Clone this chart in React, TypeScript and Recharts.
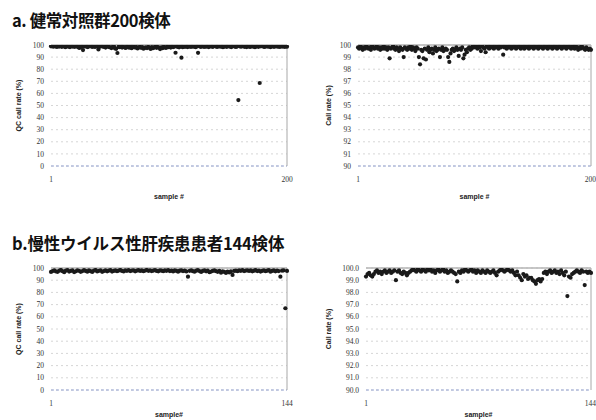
import React from "react"
import {
  ScatterChart,
  Scatter,
  XAxis,
  YAxis,
  CartesianGrid,
  ReferenceLine,
  Label,
} from "recharts"

// a. healthy controls, 200 samples
const healthyQcRate = [
  98.9, 99.1, 98.6, 99.2, 98.8, 98.4, 99.0, 98.7, 99.3, 98.5, 98.9, 99.1, 98.2, 98.8, 99.0, 98.6, 98.3, 99.2, 98.7, 98.9,
  98.5, 99.0, 98.8, 98.1, 97.6, 98.7, 98.4, 95.8, 98.9, 99.1, 98.6, 98.3, 98.9, 99.2, 98.7, 98.5, 99.0, 98.4, 98.8, 99.1,
  96.3, 98.6, 98.9, 99.2, 98.5, 98.8, 97.9, 98.6, 99.0, 98.3, 98.1, 97.5, 98.4, 98.9, 97.2, 96.8, 93.4, 98.5, 98.2, 98.8,
  97.9, 98.4, 98.1, 97.6, 98.7, 98.3, 97.8, 98.5, 97.4, 98.2, 98.6, 97.9, 98.3, 97.1, 98.0, 98.5, 97.7, 98.2, 96.9, 97.6,
  98.1, 97.5, 98.4, 97.8, 96.7, 98.2, 97.3, 98.0, 98.6, 97.7, 98.3, 97.9, 96.6, 98.1, 97.4, 98.5, 98.0, 97.6, 98.7, 98.2,
  98.5, 97.9, 98.8, 98.3, 98.6, 93.6, 98.9, 98.4, 98.1, 98.7, 89.5, 98.2, 98.8, 98.5, 99.0, 98.3, 98.7, 98.9, 98.4, 99.1,
  98.6, 98.9, 98.2, 98.8, 93.5, 99.0, 98.5, 98.7, 99.2, 98.4, 98.9, 98.6, 99.1, 98.3, 98.8, 99.0, 98.5, 98.7, 99.2, 98.9,
  98.4, 98.8, 99.1, 98.6, 98.9, 98.2, 98.7, 99.0, 98.5, 98.8, 99.2, 98.6, 98.3, 98.9, 99.1, 98.7, 98.4, 98.8, 54.5, 99.0,
  98.6, 98.9, 99.2, 98.5, 98.8, 98.3, 99.0, 98.7, 98.4, 99.1, 98.9, 98.6, 98.2, 98.8, 99.0, 98.5, 68.6, 98.9, 99.2, 98.7,
  98.4, 98.8, 99.1, 98.6, 98.9, 98.3, 98.7, 99.0, 98.5, 98.8, 99.2, 98.6, 98.9, 98.4, 99.1, 98.7, 98.9, 98.5, 98.8, 98.6,
]

const healthyCallRate = [
  99.8, 99.7, 99.9, 99.8, 99.6, 99.8, 99.7, 99.9, 99.8, 99.7, 99.8, 99.6, 99.9, 99.8, 99.7, 99.8, 99.9, 99.7, 99.8, 99.6,
  99.8, 99.7, 99.9, 99.7, 99.8, 99.6, 99.8, 98.9, 99.7, 99.8, 99.9, 99.7, 99.6, 99.8, 99.7, 99.5, 99.8, 99.7, 99.6, 99.0,
  99.8, 99.7, 99.6, 99.8, 99.7, 99.9, 99.6, 99.8, 99.7, 99.5, 99.8, 99.7, 99.0, 98.4, 99.6, 99.5, 98.9, 99.7, 98.8, 99.6,
  99.8, 99.4, 99.6, 99.7, 99.3, 99.6, 99.8, 99.5, 99.6, 99.7, 99.0, 99.6, 99.8, 99.5, 99.6, 99.7, 99.6, 99.0, 98.6, 99.3,
  99.6, 99.7, 99.5, 99.6, 99.8, 99.6, 99.1, 99.7, 99.6, 99.8, 98.9, 99.2, 99.6, 99.4, 99.7, 99.8, 99.6, 99.7, 99.9, 99.8,
  99.9, 99.8, 99.7, 99.9, 99.8, 99.5, 99.9, 99.8, 99.7, 99.4, 99.9, 99.8, 99.7, 99.9, 99.8, 99.9, 99.7, 99.8, 99.9, 99.8,
  99.7, 99.9, 99.8, 99.9, 99.2, 99.8, 99.9, 99.7, 99.8, 99.9, 99.8, 99.7, 99.9, 99.8, 99.9, 99.7, 99.8, 99.9, 99.8, 99.7,
  99.9, 99.8, 99.7, 99.9, 99.8, 99.9, 99.7, 99.8, 99.9, 99.8, 99.7, 99.9, 99.8, 99.9, 99.7, 99.8, 99.9, 99.8, 99.7, 99.9,
  99.8, 99.9, 99.7, 99.8, 99.9, 99.8, 99.7, 99.9, 99.8, 99.9, 99.7, 99.8, 99.9, 99.8, 99.7, 99.9, 99.8, 99.9, 99.7, 99.8,
  99.9, 99.8, 99.7, 99.9, 99.8, 99.7, 99.9, 99.8, 99.6, 99.8, 99.7, 99.9, 99.8, 99.7, 99.6, 99.8, 99.7, 99.6, 99.7, 99.6,
]

// b. chronic viral liver disease, 144 samples
const liverQcRate = [
  96.8, 97.5, 98.1, 97.2, 96.9, 97.8, 98.3, 97.4, 96.6, 97.9, 98.2, 97.1, 97.6, 98.0, 96.7, 97.3, 98.1, 97.7, 96.9, 97.5,
  98.2, 97.6, 97.0, 98.0, 97.4, 96.8, 97.9, 98.3, 97.2, 97.7, 98.1, 96.9, 97.5, 98.0, 97.3, 97.8, 98.2, 97.1, 97.6, 98.0,
  97.4, 97.9, 98.3, 97.6, 97.2, 98.0, 97.7, 98.2, 97.5, 97.9, 98.1, 97.3, 97.8, 98.2, 97.6, 98.0, 97.4, 97.9, 98.3, 97.7,
  98.0, 97.5, 97.9, 98.2, 97.6, 97.3, 98.1, 97.8, 97.4, 98.0, 97.7, 98.2, 97.5, 97.9, 97.2, 98.1, 97.6, 97.0, 97.8, 98.0,
  97.5, 97.9, 97.2, 92.9, 97.7, 98.1, 97.4, 97.0, 97.8, 98.2, 97.5, 96.8, 97.6, 98.0, 97.3, 97.8, 96.5, 97.1, 97.6, 98.1,
  97.4, 96.9, 97.7, 96.2, 97.3, 96.8, 95.9, 97.0, 96.4, 97.2, 94.3, 97.6, 97.9, 97.4, 98.0, 97.7, 98.2, 97.5, 97.9, 98.1,
  97.6, 98.0, 97.3, 97.8, 98.2, 97.5, 97.9, 97.1, 97.7, 98.1, 97.4, 97.8, 98.2, 97.0, 97.6, 98.0, 97.3, 97.9, 97.5, 92.9,
  97.8, 98.1, 67.0, 97.6,
]

const liverCallRate = [
  99.3, 99.5, 99.6, 99.4, 99.3, 99.5, 99.7, 99.8, 99.6, 99.7, 99.5, 99.7, 99.8, 99.6, 99.7, 99.8, 99.6, 99.7, 99.8, 99.0,
  99.7, 99.8, 99.6, 99.5, 99.7, 99.6, 99.4, 99.6, 99.7, 99.8, 99.9, 99.8, 99.7, 99.9, 99.8, 99.7, 99.9, 99.8, 99.7, 99.9,
  99.8, 99.9, 99.7, 99.8, 99.6, 99.8, 99.9, 99.7, 99.8, 99.9, 99.7, 99.8, 99.6, 99.7, 99.8, 99.7, 99.6, 99.5, 98.9, 99.7,
  99.6, 99.8, 99.7, 99.9, 99.8, 99.7, 99.8, 99.9, 99.7, 99.8, 99.6, 99.8, 99.7, 99.6, 99.8, 99.7, 99.6, 99.8, 99.7, 99.6,
  99.7, 99.8, 99.6, 99.4, 99.7, 99.8, 99.9, 99.8, 99.7, 99.8, 99.9, 99.8, 99.7, 99.8, 99.6, 99.4, 99.7, 99.4, 99.2, 99.0,
  99.5, 99.3, 99.4, 99.1, 99.2, 99.2, 99.0, 98.9, 98.7, 99.0, 99.1, 98.9, 99.1, 99.6, 99.7, 99.5, 99.7, 99.8, 99.6, 99.7,
  99.8, 99.6, 99.7, 99.5, 99.8, 99.6, 99.4, 99.7, 97.7, 99.3, 99.2, 99.5, 99.6, 99.7, 99.8, 99.7, 99.6, 99.8, 99.7, 98.6,
  99.7, 99.6, 99.7, 99.6,
]

const qcTicks = [0, 10, 20, 30, 40, 50, 60, 70, 80, 90, 100]
const callTicks = [90, 91, 92, 93, 94, 95, 96, 97, 98, 99, 100]

const tickStyle = { fontFamily: "'Liberation Serif', serif", fontSize: 7.5, fill: "#333" }
const labelStyle = { fontFamily: "'Liberation Sans', Arial, sans-serif", fontSize: 7, fontWeight: 700, fill: "#222" }

type PanelProps = {
  left: number
  top: number
  width: number
  height: number
  marginTop: number
  marginRight: number
  yWidth: number
  xHeight: number
  values: number[]
  yDomain: [number, number]
  yTicks: number[]
  yFormat?: (v: number) => string
  yLabel: string
  yLabelOffset: number
  xLabel: string
  xLabelOffset: number
}

const Dot = (props: any) => (
  <circle cx={props.cx} cy={props.cy} r={2.1} fill="#1a1a1a" />
)

function Panel(p: PanelProps) {
  const n = p.values.length
  const data = p.values.map((v, i) => ({ sample: i + 1, rate: v }))
  return (
    <div style={{ position: "absolute", left: p.left, top: p.top }}>
      <ScatterChart
        width={p.width}
        height={p.height}
        margin={{ top: p.marginTop, right: p.marginRight, bottom: 0, left: 0 }}
      >
        <CartesianGrid
          vertical={false}
          stroke="#d6d6d6"
          strokeDasharray="2 3"
        />
        <XAxis
          type="number"
          dataKey="sample"
          domain={[1, n]}
          ticks={[1, n]}
          axisLine={false}
          tickLine={false}
          tickSize={6}
          tickMargin={5}
          height={p.xHeight}
          tick={tickStyle}
        >
          <Label
            value={p.xLabel}
            position="insideBottom"
            offset={p.xLabelOffset}
            style={labelStyle}
          />
        </XAxis>
        <YAxis
          type="number"
          dataKey="rate"
          domain={p.yDomain}
          ticks={p.yTicks}
          interval={0}
          allowDataOverflow
          axisLine={false}
          tickLine={false}
          tickSize={6}
          tickMargin={1}
          width={p.yWidth}
          tick={tickStyle}
          tickFormatter={p.yFormat}
        >
          <Label
            value={p.yLabel}
            angle={-90}
            position="insideLeft"
            offset={p.yLabelOffset}
            style={{ ...labelStyle, textAnchor: "middle" }}
          />
        </YAxis>
        <ReferenceLine y={p.yDomain[1]} stroke="#b4b4b4" strokeWidth={1.5} />
        <ReferenceLine y={p.yDomain[0]} stroke="#98a6d4" strokeDasharray="3 2" />
        <ReferenceLine x={n} stroke="#a8a8a8" />
        <Scatter data={data} shape={<Dot />} isAnimationActive={false} />
      </ScatterChart>
    </div>
  )
}

const titleStyle: React.CSSProperties = {
  position: "absolute",
  left: 12,
  fontFamily: "'Noto Sans CJK JP', sans-serif",
  fontWeight: 700,
  fontSize: 16.5,
  lineHeight: "20px",
  color: "#111",
  whiteSpace: "nowrap",
}

export default function App() {
  return (
    <div
      style={{
        position: "absolute",
        left: 0,
        top: 0,
        width: 596,
        height: 420,
        overflow: "hidden",
        background: "#fff",
      }}
    >
      <div style={{ ...titleStyle, top: 10, letterSpacing: -0.4 }}>a. 健常対照群200検体</div>
      <div style={{ ...titleStyle, top: 233, letterSpacing: -0.2 }}>b.慢性ウイルス性肝疾患患者144検体</div>

      <Panel
        left={0} top={0} width={296} height={210}
        marginTop={45} marginRight={9} yWidth={51} xHeight={44}
        values={healthyQcRate} yDomain={[0, 100]} yTicks={qcTicks}
        yLabel="QC call rate (%)" yLabelOffset={19}
        xLabel="sample #" xLabelOffset={11}
      />
      <Panel
        left={296} top={0} width={300} height={210}
        marginTop={45} marginRight={5} yWidth={62} xHeight={44}
        values={healthyCallRate} yDomain={[90, 100]} yTicks={callTicks}
        yLabel="Call rate (%)" yLabelOffset={33}
        xLabel="sample #" xLabelOffset={11}
      />
      <Panel
        left={0} top={220} width={296} height={210}
        marginTop={48} marginRight={9} yWidth={51} xHeight={40}
        values={liverQcRate} yDomain={[0, 100]} yTicks={qcTicks}
        yLabel="QC call rate (%)" yLabelOffset={19}
        xLabel="sample#" xLabelOffset={13}
      />
      <Panel
        left={296} top={220} width={300} height={210}
        marginTop={48} marginRight={5} yWidth={70} xHeight={40}
        values={liverCallRate} yDomain={[90, 100]} yTicks={callTicks}
        yFormat={(v) => v.toFixed(1)}
        yLabel="Call rate (%)" yLabelOffset={33}
        xLabel="sample#" xLabelOffset={13}
      />
    </div>
  )
}
